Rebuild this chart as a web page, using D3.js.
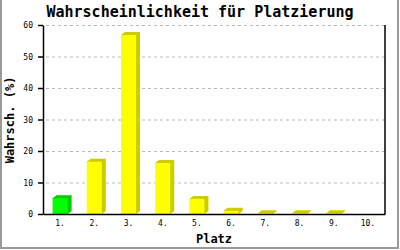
<!DOCTYPE html>
<html>
<head>
<meta charset="utf-8">
<script src="https://cdn.jsdelivr.net/npm/d3@7"></script>
<style>
  body { margin: 0; background: #fff; }
  text { font-family: "DejaVu Sans Mono", monospace; }
</style>
</head>
<body>
<div id="chart"></div>
<script>
// chart data
const places = ["1.", "2.", "3.", "4.", "5.", "6.", "7.", "8.", "9.", "10."];
const chances = [5.0, 16.6, 56.8, 16.2, 4.8, 1.0, 0.2, 0.2, 0.2, 0];
const barColors = ["#00ff00", "#ffff00", "#ffff00", "#ffff00", "#ffff00", "#ffff00", "#ffff00", "#ffff00", "#ffff00", "#ffff00"];
const sideColors = ["#00cc00", "#cccc00", "#cccc00", "#cccc00", "#cccc00", "#cccc00", "#cccc00", "#cccc00", "#cccc00", "#cccc00"];
const yTicks = [0, 10, 20, 30, 40, 50, 60];

const dims = { width: 400, height: 250, left: 43, right: 385, top: 25, bottom: 214 };
const depth = { dx: 4, dy: 3 };

const svg = d3.select("#chart").append("svg")
    .attr("width", dims.width)
    .attr("height", dims.height);

// frame
svg.append("path")
    .attr("d", `M1,0 V248 H398 V0`)
    .attr("fill", "none")
    .attr("stroke", "#999")
    .attr("stroke-width", 2);

const x = d3.scaleBand()
    .domain(places)
    .range([dims.left, dims.right])
    .paddingInner(0.56)
    .paddingOuter(0.28);

const y = d3.scaleLinear()
    .domain([0, 60])
    .range([dims.bottom, dims.top]);

// grid
svg.append("g")
    .selectAll("line")
    .data(yTicks.filter(d => d > 0))
    .join("line")
    .attr("x1", dims.left + 3)
    .attr("x2", dims.right)
    .attr("y1", d => y(d) + 0.5)
    .attr("y2", d => y(d) + 0.5)
    .attr("stroke", "#bbb")
    .attr("stroke-dasharray", "3,3");

// bars with a simple 3d side
const bars = svg.append("g")
    .selectAll("g")
    .data(chances.map((v, i) => ({ place: places[i], value: v, i })))
    .join("g");

bars.filter(d => d.value > 0).append("path")
    .attr("fill", d => sideColors[d.i])
    .attr("d", d => {
        const x0 = x(d.place), x1 = x0 + x.bandwidth(), yt = y(d.value), yb = y(0);
        return `M${x0},${yt} L${x0 + depth.dx},${yt - depth.dy} L${x1 + depth.dx},${yt - depth.dy} L${x1 + depth.dx},${yb - depth.dy} L${x1},${yb} Z`;
    });

bars.append("rect")
    .attr("fill", d => barColors[d.i])
    .attr("x", d => x(d.place))
    .attr("y", d => y(d.value))
    .attr("width", x.bandwidth())
    .attr("height", d => y(0) - y(d.value));

// axes
const yAxis = svg.append("g")
    .attr("transform", `translate(${dims.left},0)`)
    .call(d3.axisLeft(y).tickValues(yTicks).tickSize(5).tickSizeOuter(0).tickPadding(5));
yAxis.select(".domain").attr("stroke", "#000").attr("stroke-width", 1.5);
yAxis.selectAll(".tick line").attr("stroke-width", 1.5);
yAxis.selectAll("text").attr("font-size", 8).attr("font-family", "DejaVu Sans Mono");

const xAxis = svg.append("g")
    .attr("transform", `translate(0,${dims.bottom})`)
    .call(d3.axisBottom(x).tickSize(0).tickPadding(6));
xAxis.select(".domain").attr("stroke", "#000").attr("stroke-width", 1.5);
xAxis.selectAll("text").attr("font-size", 8).attr("font-family", "DejaVu Sans Mono");

// right border line of plot
svg.append("line")
    .attr("x1", dims.right).attr("x2", dims.right)
    .attr("y1", dims.top).attr("y2", dims.bottom)
    .attr("stroke", "#000").attr("stroke-width", 1.5);

// titles
svg.append("text")
    .attr("x", 200).attr("y", 17)
    .attr("text-anchor", "middle")
    .attr("font-size", 15).attr("font-weight", "bold")
    .text("Wahrscheinlichkeit für Platzierung");

svg.append("text")
    .attr("x", 214).attr("y", 243)
    .attr("text-anchor", "middle")
    .attr("font-size", 12).attr("font-weight", "bold")
    .text("Platz");

svg.append("text")
    .attr("transform", `translate(14,120) rotate(-90)`)
    .attr("text-anchor", "middle")
    .attr("font-size", 12).attr("font-weight", "bold")
    .text("Wahrsch. (%)");
</script>
</body>
</html>
